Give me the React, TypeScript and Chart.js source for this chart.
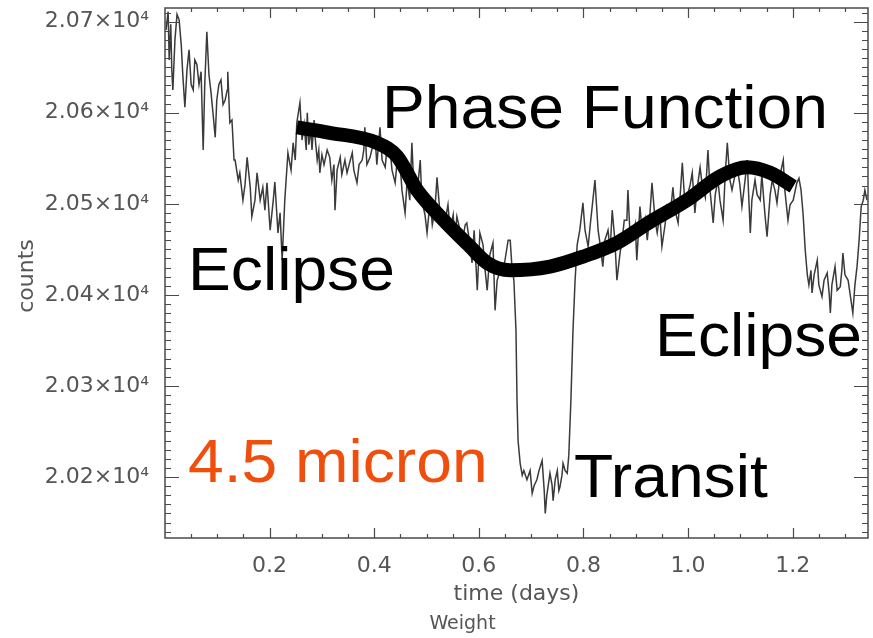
import React, { useEffect, useRef } from 'react';
import { Chart, registerables } from 'chart.js';

Chart.register(...registerables);

// Light curve samples (time in days, counts)
const times = [
  0.002, 0.006, 0.008, 0.011, 0.013, 0.015, 0.019, 0.023, 0.027, 0.031, 0.034, 0.038, 0.042, 0.046, 0.050, 0.054,
  0.057, 0.061, 0.065, 0.069, 0.073, 0.076, 0.080, 0.084, 0.088, 0.092, 0.096, 0.099, 0.103, 0.107, 0.111, 0.115,
  0.119, 0.120, 0.124, 0.128, 0.132,
  0.134, 0.140, 0.143, 0.149, 0.153, 0.157, 0.163, 0.166, 0.172, 0.176, 0.182, 0.187, 0.191, 0.195, 0.201, 0.207,
  0.210, 0.216, 0.220, 0.224, 0.229, 0.235, 0.241, 0.245, 0.249, 0.252,
  0.258, 0.262, 0.266, 0.270, 0.272, 0.275, 0.279, 0.281, 0.285, 0.287, 0.291, 0.294, 0.296, 0.300, 0.304, 0.306,
  0.310, 0.315, 0.319, 0.323, 0.325, 0.329, 0.335, 0.338, 0.344, 0.348, 0.352, 0.358, 0.361, 0.367, 0.371, 0.377,
  0.380, 0.382, 0.386, 0.392, 0.396, 0.402, 0.405, 0.411, 0.415, 0.421, 0.424, 0.430, 0.434, 0.440, 0.444, 0.449,
  0.453, 0.459, 0.463, 0.468, 0.472, 0.476, 0.482, 0.488, 0.491, 0.497, 0.501, 0.507, 0.511, 0.516, 0.520, 0.526,
  0.532, 0.535, 0.541, 0.545, 0.551, 0.554, 0.558, 0.564, 0.570, 0.574, 0.577, 0.583, 0.587, 0.591, 0.597, 0.602,
  0.608, 0.612, 0.616, 0.621, 0.627, 0.631, 0.635, 0.641, 0.646, 0.650, 0.656, 0.660, 0.663, 0.667,
  0.671, 0.673, 0.675, 0.679, 0.683, 0.686, 0.692, 0.698, 0.702, 0.706, 0.711, 0.715, 0.721, 0.725, 0.727, 0.730,
  0.736, 0.740, 0.742, 0.746, 0.750, 0.753, 0.755, 0.759, 0.761, 0.765, 0.769, 0.772, 0.776, 0.780, 0.784, 0.788,
  0.793, 0.799, 0.803, 0.809, 0.813, 0.816, 0.822, 0.828, 0.832, 0.837, 0.841, 0.847, 0.851, 0.855, 0.860, 0.864,
  0.870, 0.874, 0.878, 0.883, 0.885, 0.889, 0.895, 0.899, 0.902, 0.908, 0.912, 0.918, 0.922, 0.927, 0.931, 0.937,
  0.941, 0.946, 0.950, 0.956, 0.960, 0.966, 0.971, 0.975, 0.981, 0.985, 0.989, 0.994, 0.998, 1.004, 1.008, 1.013,
  1.017, 1.023, 1.027, 1.033, 1.038, 1.042, 1.048, 1.052, 1.057, 1.061, 1.067, 1.071, 1.075, 1.080, 1.084, 1.090,
  1.094, 1.099, 1.103, 1.109, 1.113, 1.119, 1.122, 1.128, 1.132, 1.138, 1.141, 1.147, 1.151, 1.157, 1.161, 1.166,
  1.170, 1.176, 1.182, 1.185, 1.191, 1.195, 1.201, 1.205, 1.208, 1.212, 1.216, 1.220,
  1.224, 1.228, 1.231, 1.235, 1.237, 1.241, 1.247, 1.250, 1.256, 1.260, 1.266, 1.270, 1.272, 1.275, 1.281, 1.285,
  1.291, 1.294, 1.296, 1.300, 1.306, 1.310, 1.315, 1.319, 1.323, 1.327, 1.331, 1.335, 1.338, 1.342,
];

const counts = [
  20691, 20711, 20658, 20697, 20647, 20625, 20680, 20708, 20702, 20675, 20642, 20606, 20647, 20669, 20631, 20625,
  20658, 20653, 20631, 20645, 20559, 20631, 20689, 20642, 20622, 20598, 20573, 20614, 20631, 20636, 20609, 20614,
  20625, 20645, 20589, 20592, 20548,
  20548, 20526, 20534, 20504, 20521, 20551, 20518, 20486, 20504, 20534, 20504, 20518, 20493, 20523, 20471, 20504,
  20524, 20468, 20490, 20438, 20504, 20556, 20537, 20567, 20548, 20589,
  20611, 20570, 20587, 20559, 20600, 20565, 20581, 20559, 20592, 20573, 20548, 20559, 20534, 20554, 20543, 20548,
  20559, 20551, 20526, 20543, 20493, 20537, 20551, 20532, 20548, 20534, 20543, 20556, 20537, 20523, 20543, 20548,
  20559, 20584, 20543, 20551, 20561, 20570, 20543, 20584, 20548, 20540, 20559, 20562, 20537, 20523, 20548, 20548,
  20515, 20490, 20526, 20504, 20567, 20515, 20512, 20548, 20504, 20488, 20468, 20504, 20477, 20493, 20529, 20488,
  20486, 20479, 20499, 20471, 20488, 20460, 20486, 20471, 20464, 20477, 20479, 20455, 20435, 20471, 20405, 20468,
  20455, 20427, 20405, 20444, 20457, 20383, 20416, 20427, 20424, 20438, 20460, 20460, 20433, 20416,
  20361, 20284, 20240, 20215, 20202, 20207, 20197, 20207, 20182, 20191, 20197, 20207, 20218, 20185, 20160, 20180,
  20204, 20191, 20174, 20197, 20207, 20185, 20189, 20202, 20215, 20207, 20204, 20224, 20284, 20361, 20416, 20455,
  20471, 20501, 20471, 20453, 20477, 20493, 20526, 20471, 20455, 20431, 20460, 20471, 20449, 20493, 20460, 20416,
  20446, 20460, 20482, 20482, 20515, 20466, 20464, 20477, 20438, 20497, 20471, 20484, 20460, 20488, 20523, 20482,
  20468, 20488, 20453, 20477, 20497, 20488, 20518, 20493, 20479, 20510, 20545, 20499, 20507, 20521, 20534, 20490,
  20515, 20540, 20521, 20507, 20559, 20515, 20479, 20510, 20526, 20504, 20482, 20532, 20567, 20526, 20515, 20532,
  20540, 20521, 20497, 20526, 20548, 20468, 20504, 20526, 20510, 20504, 20532, 20488, 20464, 20510, 20526, 20515,
  20501, 20532, 20548, 20515, 20482, 20499, 20504, 20515, 20523, 20528, 20515, 20488,
  20449, 20422, 20411, 20427, 20402, 20422, 20438, 20411, 20398, 20416, 20424, 20400, 20380, 20411, 20431, 20405,
  20409, 20427, 20446, 20422, 20416, 20400, 20380, 20411, 20431, 20460, 20497, 20504, 20515, 20504,
];

// Phase function model curve
const phaseTimes = [0.252, 0.315, 0.405, 0.444, 0.482, 0.526, 0.583, 0.616, 0.660, 0.736, 0.799, 0.864, 0.927, 0.998, 1.061, 1.113, 1.157, 1.201];
const phaseCounts = [20584, 20578, 20567, 20552, 20515, 20486, 20453, 20435, 20427, 20431, 20442, 20457, 20480, 20504, 20530, 20540, 20534, 20519];

const xTickValues = [0.2, 0.4, 0.6, 0.8, 1.0, 1.2];
const yTickValues = [20200, 20300, 20400, 20500, 20600, 20700];
const xRange = [0, 1.344];
const yRange = [20133, 20715];

const xTitle = 'time (days)';
const yTitle = 'counts';
const subTitle = 'Weight';

// Annotation labels anchored at data coordinates (left, baseline)
const annotationTexts = ['Phase Function', 'Eclipse', 'Eclipse', 'Transit', '4.5 micron'];
const annotationTimes = [0.415, 0.044, 0.937, 0.782, 0.044];
const annotationCounts = [20583, 20405, 20333, 20178, 20194];
const annotationColors = ['#000000', '#000000', '#000000', '#000000', '#F04E0C'];

const AXIS_FONT = '"DejaVu Sans", sans-serif';
const AXIS_COLOR = '#555555';

const framePlugin = {
  id: 'idlFrame',
  afterDatasetsDraw(chart: any) {
    const { ctx, chartArea: a, scales } = chart;
    const x = scales.x;
    const y = scales.y;
    ctx.save();
    // frame
    ctx.strokeStyle = '#4a4a4a';
    ctx.lineWidth = 1.5;
    ctx.strokeRect(a.left, a.top, a.right - a.left, a.bottom - a.top);
    // inward ticks
    ctx.lineWidth = 1.2;
    ctx.beginPath();
    for (let i = 1; i * 0.05 < x.max; i++) {
      const px = Math.round(x.getPixelForValue(i * 0.05)) + 0.5;
      const L = i % 4 === 0 ? 10 : 4;
      ctx.moveTo(px, a.bottom);
      ctx.lineTo(px, a.bottom - L);
      ctx.moveTo(px, a.top);
      ctx.lineTo(px, a.top + L);
    }
    for (let v = Math.ceil(y.min / 10) * 10; v < y.max; v += 10) {
      const py = Math.round(y.getPixelForValue(v)) + 0.5;
      const L = v % 100 === 0 ? 14 : 6;
      ctx.moveTo(a.left, py);
      ctx.lineTo(a.left + L, py);
      ctx.moveTo(a.right, py);
      ctx.lineTo(a.right - L, py);
    }
    ctx.stroke();

    // annotations
    ctx.textAlign = 'left';
    ctx.textBaseline = 'alphabetic';
    ctx.font = '62px "Liberation Sans", Arial, sans-serif';
    annotationTexts.forEach((t, i) => {
      ctx.save();
      ctx.translate(x.getPixelForValue(annotationTimes[i]), y.getPixelForValue(annotationCounts[i]));
      ctx.scale(1.035, 1);
      ctx.fillStyle = annotationColors[i];
      ctx.fillText(t, 0, 0);
      ctx.restore();
    });

    // axis titles
    const cx = (a.left + a.right) / 2;
    ctx.fillStyle = AXIS_COLOR;
    ctx.textAlign = 'center';
    ctx.textBaseline = 'middle';
    ctx.font = `22px ${AXIS_FONT}`;
    ctx.fillText(xTitle, cx, a.bottom + 56);
    ctx.font = `19px ${AXIS_FONT}`;
    ctx.fillText(subTitle, cx - 54, a.bottom + 86);
    ctx.save();
    ctx.translate(27, (a.top + a.bottom) / 2 + 3);
    ctx.rotate(-Math.PI / 2);
    ctx.font = `22px ${AXIS_FONT}`;
    ctx.fillText(yTitle, 0, 0);
    ctx.restore();
    ctx.restore();
  },
};

export default function App() {
  const canvasRef = useRef<HTMLCanvasElement | null>(null);

  useEffect(() => {
    const canvas = canvasRef.current;
    if (!canvas) return;
    const series = times.map((t, i) => ({ x: t, y: counts[i] }));
    const phase = phaseTimes.map((t, i) => ({ x: t, y: phaseCounts[i] }));
    const chart = new Chart(canvas, {
      type: 'line',
      data: {
        datasets: [
          {
            label: 'Phase Function',
            data: phase,
            borderColor: '#000000',
            borderWidth: 14,
            pointRadius: 0,
            tension: 0.4,
            cubicInterpolationMode: 'monotone',
            borderCapStyle: 'butt',
            fill: false,
          },
          {
            label: 'counts',
            data: series,
            borderColor: '#3a3a3a',
            borderWidth: 1.5,
            pointRadius: 0,
            tension: 0,
            fill: false,
          },
        ],
      },
      options: {
        animation: false,
        responsive: false,
        events: [],
        layout: { padding: { left: 0, top: 8, right: 5, bottom: 0 } },
        plugins: { legend: { display: false }, tooltip: { enabled: false }, title: { display: false } },
        scales: {
          x: {
            type: 'linear',
            min: xRange[0],
            max: xRange[1],
            grid: { display: false, drawTicks: false },
            border: { display: false },
            afterBuildTicks: (scale: any) => {
              scale.ticks = xTickValues.map((v) => ({ value: v }));
            },
            afterFit: (scale: any) => {
              scale.height = 100;
              scale.paddingLeft = 0;
              scale.paddingRight = 0;
            },
            ticks: {
              padding: 15,
              color: AXIS_COLOR,
              font: { family: AXIS_FONT, size: 22 },
              maxRotation: 0,
              autoSkip: false,
              callback: (v: any) => Number(v).toFixed(1),
            },
          },
          y: {
            type: 'linear',
            min: yRange[0],
            max: yRange[1],
            grid: { display: false, drawTicks: false },
            border: { display: false },
            afterBuildTicks: (scale: any) => {
              scale.ticks = yTickValues.map((v) => ({ value: v }));
            },
            afterFit: (scale: any) => {
              scale.width = 165;
              scale.paddingTop = 0;
              scale.paddingBottom = 0;
            },
            ticks: {
              padding: 16,
              color: AXIS_COLOR,
              font: { family: AXIS_FONT, size: 22 },
              autoSkip: false,
              callback: (v: any) => (Number(v) / 10000).toFixed(2) + '×10⁴',
            },
          },
        },
      },
      plugins: [framePlugin],
    });
    return () => chart.destroy();
  }, []);

  return (
    <div style={{ position: 'absolute', left: 0, top: 0, width: 873, height: 638, background: '#ffffff' }}>
      <canvas ref={canvasRef} width={873} height={638} style={{ display: 'block', width: 873, height: 638 }} />
    </div>
  );
}
